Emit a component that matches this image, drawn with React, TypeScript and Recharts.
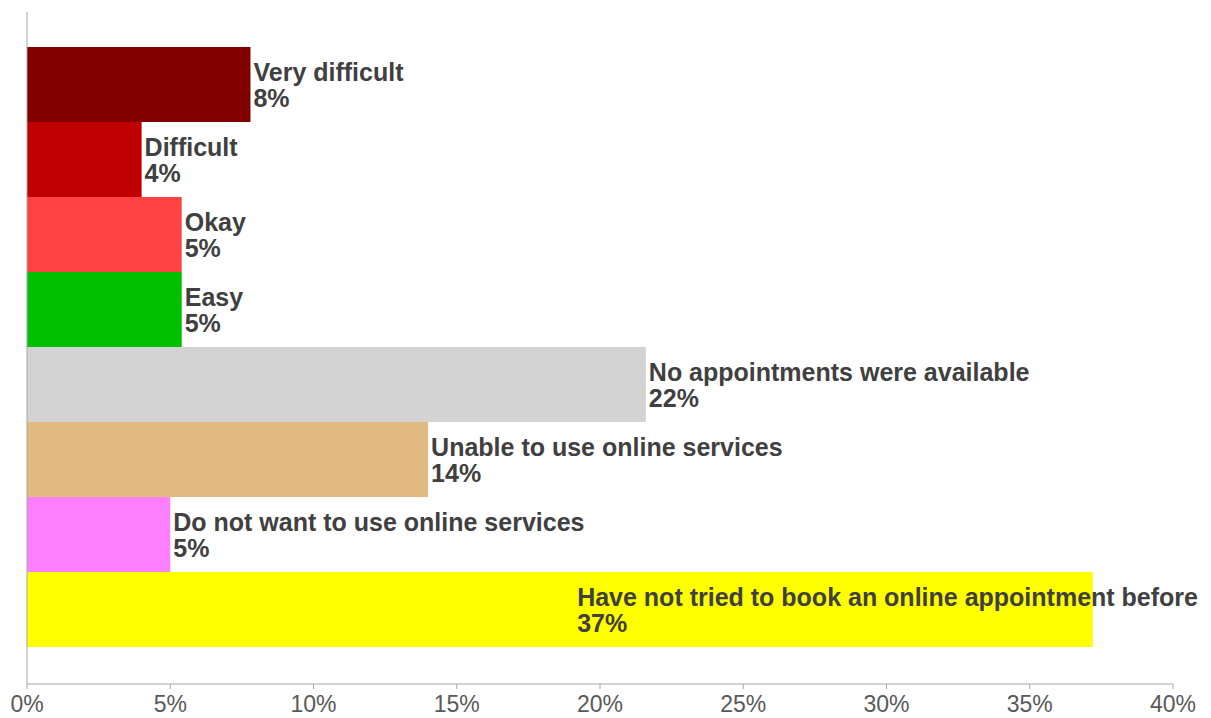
import { BarChart, Bar, XAxis, YAxis, LabelList } from "recharts";

const categories = [
  "Very difficult",
  "Difficult",
  "Okay",
  "Easy",
  "No appointments were available",
  "Unable to use online services",
  "Do not want to use online services",
  "Have not tried to book an online appointment before",
];
const values = [7.8, 4.0, 5.4, 5.4, 21.6, 14.0, 5.0, 37.2];
const colors = [
  "#800000",
  "#c00000",
  "#ff4343",
  "#00c000",
  "#d3d3d3",
  "#e3b982",
  "#ff80ff",
  "#ffff00",
];
const xTicks = [0, 5, 10, 15, 20, 25, 30, 35, 40];

const WIDTH = 1211;
const HEIGHT = 718;
const LABEL_FONT = "bold 25px 'Liberation Sans', Arial, sans-serif";

// one category row, one series per answer
const row: Record<string, string | number> = { name: "all" };
values.forEach((v, i) => {
  row[`s${i}`] = v;
});
const chartData = [row];

let measureCtx: CanvasRenderingContext2D | null = null;
function textWidth(s: string) {
  if (!measureCtx) measureCtx = document.createElement("canvas").getContext("2d");
  if (!measureCtx) return s.length * 13;
  measureCtx.font = LABEL_FONT;
  return measureCtx.measureText(s).width;
}

function BarLabel(props: any) {
  const { x, y, width, height, value, title } = props;
  const cy = Number(y) + Number(height) / 2;
  let tx = Number(x) + Number(width) + 3;
  // keep the label inside the chart, like Excel does
  const w = textWidth(title);
  if (tx + w > WIDTH - 13) tx = WIDTH - 13 - w;
  return (
    <text x={tx} y={cy - 4} fill="#404040" style={{ font: LABEL_FONT }}>
      <tspan x={tx}>{title}</tspan>
      <tspan x={tx} dy={26.6}>{`${Math.round(value)}%`}</tspan>
    </text>
  );
}

export default function App() {
  return (
    <div style={{ position: "absolute", left: 0, top: 0, background: "#fff" }}>
      <BarChart
        width={WIDTH}
        height={HEIGHT}
        data={chartData}
        layout="vertical"
        margin={{ top: 12, right: 38, left: 26, bottom: 0 }}
        barCategoryGap={35}
        barGap={0}
      >
        <XAxis
          type="number"
          domain={[0, 40]}
          ticks={xTicks}
          tickFormatter={(v) => `${v}%`}
          height={34}
          tickSize={5}
          tickMargin={7}
          stroke="#a6a6a6"
          tick={{
            fill: "#595959",
            fontSize: 23,
            fontFamily: "'Liberation Sans', Arial, sans-serif",
          }}
          interval={0}
        />
        <YAxis
          type="category"
          dataKey="name"
          width={1}
          tick={false}
          tickLine={false}
          stroke="#a6a6a6"
        />
        {categories.map((c, i) => (
          <Bar
            key={c}
            dataKey={`s${i}`}
            fill={colors[i]}
            isAnimationActive={false}
          >
            <LabelList
              dataKey={`s${i}`}
              content={(p: any) => <BarLabel {...p} title={c} />}
            />
          </Bar>
        ))}
      </BarChart>
    </div>
  );
}
